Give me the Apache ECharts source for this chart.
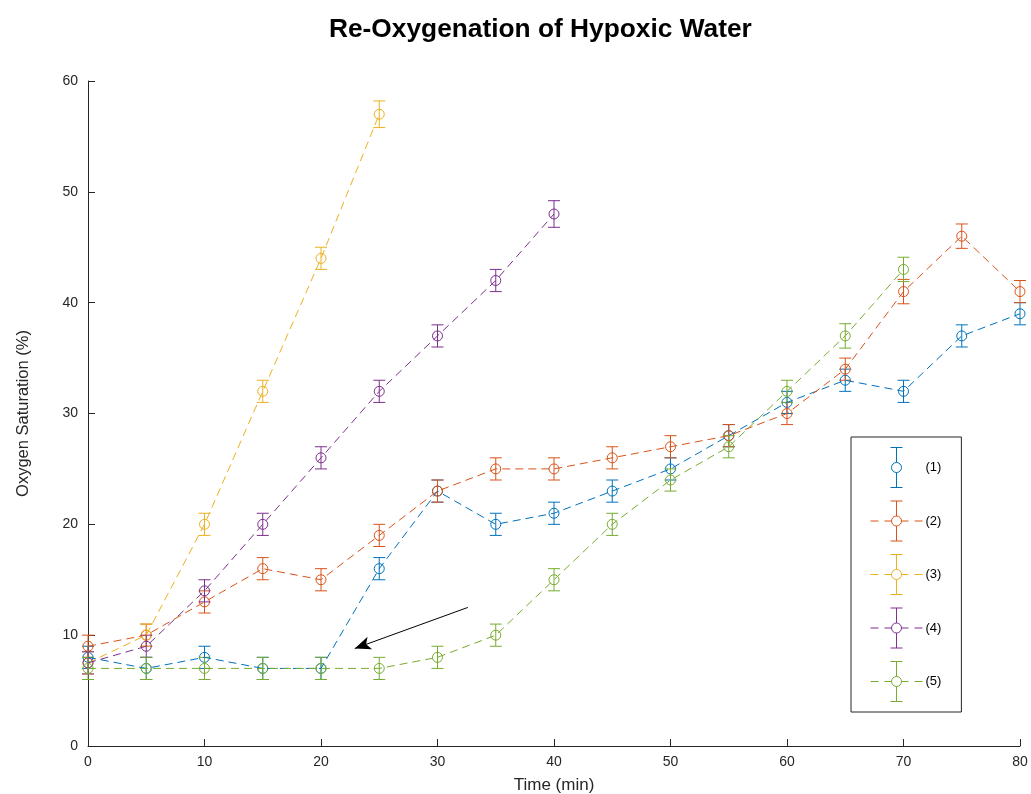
<!DOCTYPE html>
<html>
<head>
<meta charset="utf-8">
<script src="https://cdn.jsdelivr.net/npm/echarts@6/dist/echarts.min.js"></script>
<style>
  html, body { margin: 0; padding: 0; background: #fff; }
  #chart { width: 1031px; height: 794px; }
</style>
</head>
<body>
<div id="chart"></div>
<script>
// Sampling times (min)
const times = [0, 5, 10, 15, 20, 25, 30, 35, 40, 45, 50, 55, 60, 65, 70, 75, 80];

// Oxygen saturation (%) per trial
const trial1 = [8, 7, 8, 7, 7, 16, 23, 20, 21, 23, 25, 28, 31, 33, 32, 37, 39];
const trial2 = [9, 10, 13, 16, 15, 19, 23, 25, 25, 26, 27, 28, 30, 34, 41, 46, 41];
const trial3 = [7.5, 10, 20, 32, 44, 57];
const trial4 = [7.5, 9, 14, 20, 26, 32, 37, 42, 48];
const trial5 = [7, 7, 7, 7, 7, 7, 8, 10, 15, 20, 24, 27, 32, 37, 43];

// Measurement uncertainty (± %)
const err1 = [1, 1, 1, 1, 1, 1, 1, 1, 1, 1, 1, 1, 1, 1, 1, 1, 1];
const err2 = [1, 1, 1, 1, 1, 1, 1, 1, 1, 1, 1, 1, 1, 1, 1.1, 1.1, 1];
const err3 = [1, 1, 1, 1, 1, 1.2];
const err4 = [1, 1, 1, 1, 1, 1, 1, 1, 1.2];
const err5 = [1, 1, 1, 1, 1, 1, 1, 1, 1, 1, 1, 1, 1, 1.1, 1.1];

const names = ['(1)', '(2)', '(3)', '(4)', '(5)'];
const colors = ['#0072BD', '#D95319', '#EDB120', '#7E2F8E', '#77AC30'];
const values = [trial1, trial2, trial3, trial4, trial5];
const errors = [err1, err2, err3, err4, err5];

// Annotation arrow (data coordinates): tail -> head
const arrowTail = [32.6, 12.5];
const arrowHead = [22.9, 8.8];

const fontFamily = 'Liberation Sans, Arial, sans-serif';
const textColor = '#262626';
const axisColor = '#262626';

function pairs(vals) {
  return vals.map((v, i) => [times[i], v]);
}

function errorData(vals, errs) {
  return vals.map((v, i) => [times[i], v - errs[i], v + errs[i], v]);
}

// vertical error bar with short caps and an open circle marker
function renderErrorBar(params, api) {
  const x = api.value(0);
  const lo = api.coord([x, api.value(1)]);
  const hi = api.coord([x, api.value(2)]);
  const mid = api.coord([x, api.value(3)]);
  const cap = 6;
  const style = { stroke: api.visual('color'), lineWidth: 1, fill: null };
  return {
    type: 'group',
    children: [
      { type: 'line', shape: { x1: lo[0], y1: lo[1], x2: hi[0], y2: hi[1] }, style: style },
      { type: 'line', shape: { x1: lo[0] - cap, y1: lo[1], x2: lo[0] + cap, y2: lo[1] }, style: style },
      { type: 'line', shape: { x1: hi[0] - cap, y1: hi[1], x2: hi[0] + cap, y2: hi[1] }, style: style },
      { type: 'circle', shape: { cx: mid[0], cy: mid[1], r: 5 }, style: { stroke: api.visual('color'), lineWidth: 1, fill: null } }
    ]
  };
}

// legend glyph: dashed line through an error bar with an open circle
const iconBar = 'M26 0 L26 15 M26 25 L26 40 M20 0 L32 0 M20 40 L32 40 ' +
  'M31 20 A5 5 0 1 1 21 20 A5 5 0 1 1 31 20';
const iconDashed = 'M0 20 L8 20 M14 20 L21 20 M31 20 L38 20 M44 20 L52 20 ' + iconBar;
const iconPlain = 'M0 20 L0.01 20 M51.99 20 L52 20 ' + iconBar;

const series = [];
names.forEach((name, k) => {
  const lineSeries = {
    name: name,
    type: 'line',
    data: pairs(values[k]),
    symbol: 'none',
    color: colors[k],
    itemStyle: { color: colors[k] },
    lineStyle: { color: colors[k], width: 1, type: [8, 5] },
    z: 3,
    animation: false
  };
  if (k === 4) {
    lineSeries.markLine = {
      silent: true,
      animation: false,
      symbol: ['none', 'arrow'],
      symbolSize: [10, 16],
      label: { show: false },
      lineStyle: { color: '#000', width: 1, type: 'solid' },
      data: [[
        { coord: arrowTail, symbol: 'none' },
        { coord: arrowHead, symbol: 'arrow' }
      ]]
    };
  }
  series.push(lineSeries);
  series.push({
    name: name + ' error',
    type: 'custom',
    data: errorData(values[k], errors[k]),
    renderItem: renderErrorBar,
    color: colors[k],
    encode: { x: 0, y: [1, 2] },
    z: 2,
    silent: true,
    animation: false
  });
});

const chart = echarts.init(document.getElementById('chart'), null, { renderer: 'canvas' });
chart.setOption({
  backgroundColor: '#fff',
  animation: false,
  title: {
    text: 'Re-Oxygenation of Hypoxic Water',
    left: 324,
    top: 12,
    textStyle: {
      fontFamily: fontFamily,
      fontSize: 26.3,
      fontWeight: 'bold',
      color: '#000'
    }
  },
  legend: {
    orient: 'vertical',
    left: 851,
    top: 437,
    padding: [10, 20, 10, 19],
    itemWidth: 52,
    itemHeight: 40,
    itemGap: 12.5,
    borderColor: '#262626',
    borderWidth: 1,
    backgroundColor: '#fff',
    textStyle: {
      fontFamily: fontFamily,
      fontSize: 13,
      color: '#000',
      padding: [0, 0, 0, -2]
    },
    data: names.map((n, k) => ({
      name: n,
      icon: 'path://' + (k === 0 ? iconPlain : iconDashed),
      itemStyle: { color: 'rgba(0,0,0,0)', borderColor: colors[k], borderWidth: 1 }
    })),
    selectedMode: false
  },
  grid: {
    left: 88,
    right: 11,
    top: 81,
    bottom: 48,
    containLabel: false,
    outerBoundsMode: 'none'
  },
  xAxis: {
    type: 'value',
    min: 0,
    max: 80,
    interval: 10,
    name: 'Time (min)',
    nameLocation: 'middle',
    nameGap: 31,
    nameTextStyle: {
      fontFamily: fontFamily,
      fontSize: 17,
      color: textColor
    },
    axisLine: { show: true, lineStyle: { color: axisColor, width: 1 } },
    axisTick: { show: true, inside: true, length: 7, lineStyle: { color: axisColor } },
    axisLabel: {
      margin: 9,
      fontFamily: fontFamily,
      fontSize: 14,
      color: textColor
    },
    splitLine: { show: false }
  },
  yAxis: {
    type: 'value',
    min: 0,
    max: 60,
    interval: 10,
    name: 'Oxygen Saturation (%)',
    nameLocation: 'middle',
    nameGap: 56,
    nameTextStyle: {
      fontFamily: fontFamily,
      fontSize: 16.5,
      color: textColor
    },
    axisLine: { show: true, lineStyle: { color: axisColor, width: 1 } },
    axisTick: { show: true, inside: true, length: 7, lineStyle: { color: axisColor } },
    axisLabel: {
      margin: 10,
      fontFamily: fontFamily,
      fontSize: 14,
      color: textColor
    },
    splitLine: { show: false }
  },
  series: series
});
</script>
</body>
</html>
